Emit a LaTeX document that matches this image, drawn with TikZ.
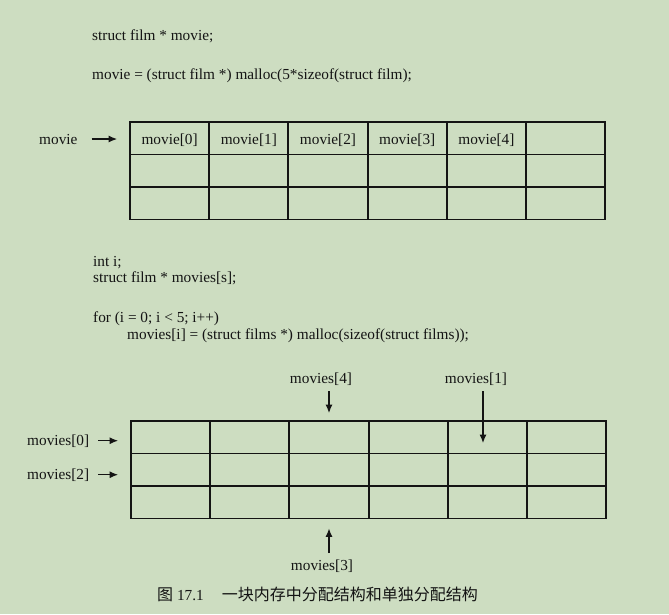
\documentclass[tikz,border=0pt]{standalone}
\usepackage{fontspec}
\setmainfont{Liberation Serif}
\newfontfamily\cjk{Noto Sans CJK SC}
\usetikzlibrary{arrows.meta}
\definecolor{paper}{RGB}{205,221,193}
\definecolor{ink}{RGB}{20,20,20}
\begin{document}
\begin{tikzpicture}[x=1pt, y=-1pt, font=\fontsize{15.3}{18}\selectfont, color=ink,
    code/.style={anchor=base west, inner sep=0pt},
    cell/.style={draw, line width=1.9pt, minimum width=79.2pt, minimum height=32.5pt,
                 inner sep=0pt, text height=13.4pt, text depth=0pt},
    ptr/.style={-{Latex[length=8.5pt,width=7pt]}, line width=1.1pt}]
  \fill[paper] (0,0) rectangle (669,614);
  \useasboundingbox (0,0) rectangle (669,614);

  \node[code] (c1) at (92,40) {struct film * movie;};
  \node[code] (c2) at (92,79.5) {movie = (struct film *) malloc(5*sizeof(struct film);};

  \foreach \r in {1,2,3}
    \foreach \c in {1,...,6}
      \node[cell] (a-\r-\c) at ({130+79.2*(\c-0.5)},{122+32.5*(\r-0.5)}) {};
  \foreach \c in {1,...,5}{
    \pgfmathtruncatemacro{\k}{\c-1}
    \node[cell, draw=none] (mv-\c) at (a-1-\c) {movie[\k]};
  }
  \node[code] (lm) at (39,144) {movie};
  \draw[ptr, shorten <=14pt, shorten >=12pt] (lm.east) -- (lm.east -| a-1-1.west);

  \node[code] (c3) at (93,266.5) {int i;};
  \node[code] (c4) at (93,282.5) {struct film * movies[s];};
  \node[code] (c5) at (93,322) {for (i = 0; i < 5; i++)};
  \node[code] (c6) at (127,339) {movies[i] = (struct films *) malloc(sizeof(struct films));};

  \foreach \r in {1,2,3}
    \foreach \c in {1,...,6}
      \node[cell] (b-\r-\c) at ({131+79.2*(\c-0.5)},{421+32.5*(\r-0.5)}) {};

  \node[code] (l0) at (27,445) {movies[0]};
  \node[code] (l2) at (27,479) {movies[2]};
  \draw[ptr, shorten <=9pt, shorten >=12pt] (l0.east) -- (l0.east -| b-1-1.west);
  \draw[ptr, shorten <=9pt, shorten >=12pt] (l2.east) -- (l2.east -| b-2-1.west);

  \node[code, anchor=base] (l4) at (321,383) {movies[4]};
  \node[code, anchor=base] (l1) at (476,383) {movies[1]};
  \node[code, anchor=base] (l3) at (322,570) {movies[3]};
  \coordinate (p1) at (483,443);
  \draw[ptr, shorten <=6pt, shorten >=7pt] (l4.south -| b-1-3.north) -- (b-1-3.north);
  \draw[ptr, shorten <=6pt] (l1.south -| p1) -- (p1);
  \draw[ptr, shorten <=6pt, shorten >=9pt] (l3.north -| b-3-3.south) -- (b-3-3.south);

  \node[code] (cap) at (157,600) {{\cjk\fontsize{16}{18}\selectfont 图} 17.1\hspace{18pt}{\cjk\fontsize{16}{18}\selectfont 一块内存中分配结构和单独分配结构}};
\end{tikzpicture}
\end{document}
